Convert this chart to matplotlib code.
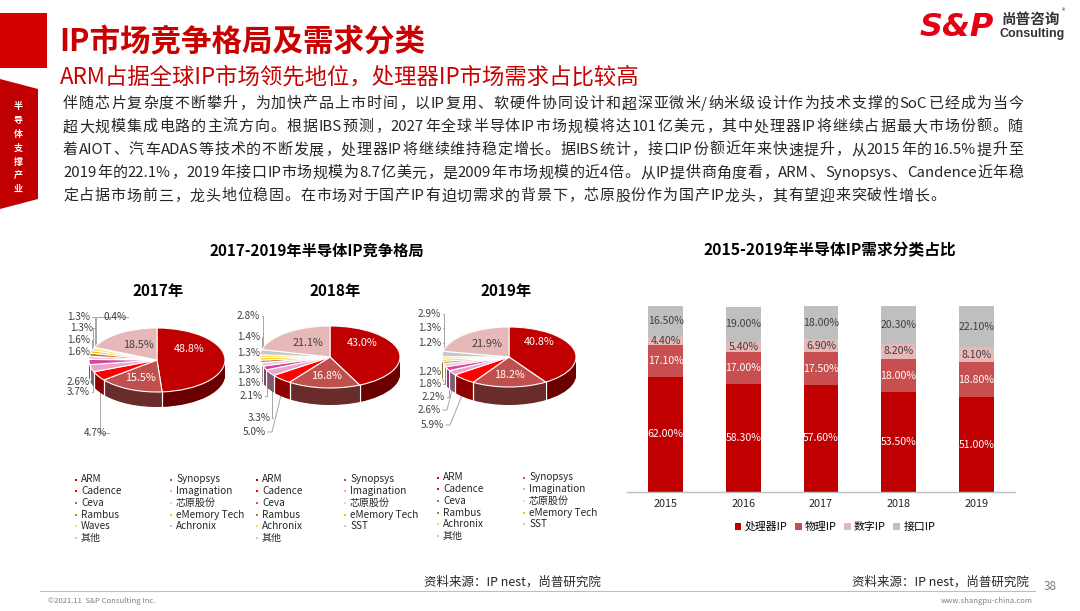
import re
import numpy as np
import matplotlib.pyplot as plt
from matplotlib.colors import to_rgb
from matplotlib.font_manager import FontProperties

FAMILY = ['Noto Sans CJK SC', 'DejaVu Sans']
plt.rcParams['font.family'] = FAMILY

W, H = 1080, 611

# ---- data ----
vendors17 = ['ARM', 'Synopsys', 'Cadence', 'Imagination', 'Ceva', '芯原股份',
             'Rambus', 'eMemory Tech', 'Waves', 'Achronix', '其他']
share17 = [48.8, 15.5, 4.7, 3.7, 2.6, 1.6, 1.6, 1.3, 1.3, 0.4, 18.5]
vendors18 = ['ARM', 'Synopsys', 'Cadence', 'Imagination', 'Ceva', '芯原股份',
             'Rambus', 'eMemory Tech', 'Achronix', 'SST', '其他']
share18 = [43.0, 16.8, 5.0, 3.3, 2.1, 1.8, 1.3, 1.3, 1.4, 2.8, 21.1]
vendors19 = ['ARM', 'Synopsys', 'Cadence', 'Imagination', 'Ceva', '芯原股份',
             'Rambus', 'eMemory Tech', 'Achronix', 'SST', '其他']
share19 = [40.8, 18.2, 5.9, 2.6, 2.2, 1.8, 1.2, 1.2, 1.3, 2.9, 21.9]

years = ['2015', '2016', '2017', '2018', '2019']
ip_types = ['处理器IP', '物理IP', '数字IP', '接口IP']
processor_ip = [62.0, 58.3, 57.6, 53.5, 51.0]
physical_ip = [17.1, 17.0, 17.5, 18.0, 18.8]
digital_ip = [4.4, 5.4, 6.9, 8.2, 8.1]
interface_ip = [16.5, 19.0, 18.0, 20.3, 22.1]

body = [
    '伴随芯片复杂度不断攀升，为加快产品上市时间，以IP复用、软硬件协同设计和超深亚微米/纳米级设计作为技术支撑的SoC已经成为当今',
    '超大规模集成电路的主流方向。根据IBS预测，2027年全球半导体IP市场规模将达101亿美元，其中处理器IP将继续占据最大市场份额。随',
    '着AIOT、汽车ADAS等技术的不断发展，处理器IP将继续维持稳定增长。据IBS统计，接口IP份额近年来快速提升，从2015年的16.5%提升至',
    '2019年的22.1%，2019年接口IP市场规模为8.7亿美元，是2009年市场规模的近4倍。从IP提供商角度看，ARM、Synopsys、Candence近年稳',
    '定占据市场前三，龙头地位稳固。在市场对于国产IP有迫切需求的背景下，芯原股份作为国产IP龙头，其有望迎来突破性增长。',
]

pie_colors = ['#C00000', '#C0504D', '#FF0000', '#EBA3C9', '#D2479B', '#F5C6D8',
              '#B07A4A', '#FFC000', '#FFE34D', '#C8C8C8', '#E6B9B8']
bar_colors = ['#C00000', '#C84F4F', '#E6B8B7', '#BFBFBF']

RED = '#C80000'
TXT = '#262626'


def box(x0, y0, x1, y1):
    return [x0 / W, 1 - y1 / H, (x1 - x0) / W, (y1 - y0) / H]


fig = plt.figure(figsize=(W / 100, H / 100), dpi=100)
bg = fig.add_axes([0, 0, 1, 1])
bg.set_xlim(0, W)
bg.set_ylim(H, 0)
bg.axis('off')
renderer = fig.canvas.get_renderer()

# ---- header ----
bg.add_patch(plt.Rectangle((0, 13), 47, 55, color='#D40000', lw=0))
bg.add_patch(plt.Polygon([(0, 79), (38, 89), (38, 199), (0, 209)], color='#C00000', lw=0))
for i, ch in enumerate('半导体支撑产业'):
    bg.text(18, 107 + i * 13.8, ch, color='white', fontsize=6.5, ha='center', va='center',
            fontweight='bold')

bg.text(59, 42, 'IP市场竞争格局及需求分类', color=RED, fontsize=22, fontweight='bold',
        va='center', ha='left')
bg.text(60, 77, 'ARM占据全球IP市场领先地位，处理器IP市场需求占比较高', color=RED, fontsize=16.1,
        va='center', ha='left')

# body text, justified token by token
fs_body = 10.8
fp = FontProperties(family=FAMILY, size=fs_body)


def txt_w(s):
    return renderer.get_text_width_height_descent(s, fp, ismath=False)[0]


base = txt_w('中中')
layout = []
for line in body:
    toks = re.findall(r'[\x00-\x7f]+|.', line)
    advs = [txt_w('中' + t + '中') - base for t in toks]
    layout.append((toks, advs))
x_left, x_right = 63, 1023
gaps = [(x_right - x_left - sum(a)) / (len(t) - 1) for t, a in layout[:4]]
for i, (toks, advs) in enumerate(layout):
    gap = gaps[i] if i < 4 else np.mean(gaps)
    x = x_left
    for t, a in zip(toks, advs):
        bg.text(x, 104 + i * 23.1, t, color=TXT, fontproperties=fp, va='center', ha='left')
        x += a + gap

# logo
bg.text(920, 27, 'S&P', color='#E60012', fontsize=23, fontweight='heavy', style='italic',
        family='DejaVu Sans', va='center', ha='left')
bg.text(1001, 19, '尚普咨询', color='#333333', fontsize=10.5, fontweight='bold', va='center', ha='left')
bg.text(1062, 11, '®', color='#333333', fontsize=5, va='center', ha='left')
bg.text(1000, 34, 'Consulting', color='#333333', fontsize=9, fontweight='bold',
        family='Liberation Sans', va='center', ha='left')

# section titles
bg.text(317, 251, '2017-2019年半导体IP竞争格局', fontsize=11, fontweight='bold', color='black',
        ha='center', va='center')
bg.text(830, 250, '2015-2019年半导体IP需求分类占比', fontsize=11.3, fontweight='bold', color='black',
        ha='center', va='center')


def darker(c, f=0.5):
    r, g, b = to_rgb(c)
    return (r * f, g * f, b * f)


def draw_pie(cx, cy, rx, ry, dep, shares, names, title, title_x, ext_pos, leg_x, leg_y):
    ax = fig.add_axes(box(cx - rx, cy - ry, cx + rx, cy + ry + dep))
    dd = dep / ry
    side = [darker(c, 0.55) for c in pie_colors]
    for k in np.linspace(dd, 0.0, 30):
        ax.pie(shares, colors=side, startangle=90, counterclock=False, center=(0, -k),
               wedgeprops=dict(linewidth=0))
    ax.pie(shares, colors=pie_colors, startangle=90, counterclock=False,
           wedgeprops=dict(edgecolor='white', linewidth=0.8))
    s = np.array(shares)
    cum = np.cumsum(s)
    bounds = np.deg2rad(90 - 3.6 * np.concatenate([[0], cum]))
    for b in bounds:
        if np.sin(b) < -0.1:
            ax.plot([np.cos(b), np.cos(b)], [np.sin(b), np.sin(b) - dd], color='white', lw=0.9)
    ax.set_aspect('auto')
    ax.set_xlim(-1, 1)
    ax.set_ylim(-1 - dd, 1)
    ax.axis('off')

    mid = np.deg2rad(90 - 3.6 * (cum - s / 2))
    # inner labels on the three big slices
    nudges = {0: (-0.12, 0.32), 1: (0.0, 0.0), 10: (0.05, -0.02)}
    for i, (nx, ny) in nudges.items():
        col = 'white' if i < 2 else '#404040'
        ax.text(0.6 * np.cos(mid[i]) + nx, 0.6 * np.sin(mid[i]) + ny, f'{s[i]:.1f}%',
                color=col, fontsize=7.8, ha='center', va='center')

    # outer labels with leader lines
    for i, (lx, ly) in zip(range(2, 10), ext_pos):
        bg.text(lx, ly, f'{s[i]:.1f}%', color='#404040', fontsize=7.2, ha='left', va='center')
        px = cx + rx * 0.97 * np.cos(mid[i])
        py = cy - ry * 0.97 * np.sin(mid[i])
        if np.sin(mid[i]) < 0:
            py += dep * 0.6
        ex = lx + 25
        vx = min(px, ex + 4)
        bg.plot([ex, vx, px], [ly, ly, py], color='#A6A6A6', lw=0.7)

    bg.text(title_x, 291, title, fontsize=11, fontweight='bold', color='black',
            ha='center', va='center')

    # legend, row-major with two columns
    for i, name in enumerate(names):
        r, c = divmod(i, 2)
        x = leg_x[c]
        y = leg_y + r * 11.7
        bg.scatter([x], [y], marker='s', s=4, color=pie_colors[i], lw=0)
        bg.text(x + 5, y, name, fontsize=7.2, color='#262626', ha='left', va='center')


draw_pie(157, 360, 68, 32, 15, share17, vendors17, '2017年', 158,
         [(84, 433), (67, 392), (67, 382), (67, 352), (67, 340), (70, 328), (67, 317), (103, 317)],
         (76, 171), 479.5)
draw_pie(330, 357, 70, 31, 17, share18, vendors18, '2018年', 335,
         [(243, 432), (248, 418), (240, 396), (237, 383), (237, 370), (237, 353), (237, 337), (237, 316)],
         (257, 345), 479.5)
draw_pie(509, 357, 67, 30, 18, share19, vendors19, '2019年', 506,
         [(421, 425), (418, 410), (422, 397), (418, 384), (418, 372), (418, 343), (418, 328), (418, 314)],
         (438, 524), 477.5)

# ---- stacked bar chart ----
bx = fig.add_axes(box(627, 306, 1015, 492))
xpos = np.arange(len(years))
series = [processor_ip, physical_ip, digital_ip, interface_ip]
bottom = np.zeros(len(years))
for k, vals in enumerate(series):
    bars = bx.bar(xpos, vals, width=0.45, bottom=bottom, color=bar_colors[k],
                  label=ip_types[k], lw=0)
    col = 'white' if k < 2 else '#404040'
    bx.bar_label(bars, labels=[f'{v:.2f}%' for v in vals], label_type='center',
                 color=col, fontsize=7.6)
    bottom += np.array(vals)
bx.set_xlim(-0.5, 4.5)
bx.set_ylim(0, 100)
bx.set_xticks(xpos, years)
bx.tick_params(axis='x', length=0, labelsize=7.8, colors='#262626', pad=5)
bx.set_yticks([])
for sp in ['top', 'left', 'right']:
    bx.spines[sp].set_visible(False)
bx.spines['bottom'].set_color('#BFBFBF')
bx.spines['bottom'].set_linewidth(1)
bx.legend(loc='center', bbox_to_anchor=(835 / W, 1 - 527 / H), bbox_transform=fig.transFigure,
          ncol=4, frameon=False, fontsize=7.8, handlelength=0.6, handleheight=0.6,
          handletextpad=0.3, columnspacing=0.7)

# ---- footer ----
bg.text(512, 582, '资料来源：IP nest，尚普研究院', fontsize=9, color='#262626', ha='center', va='center')
bg.text(940, 582, '资料来源：IP nest，尚普研究院', fontsize=9, color='#262626', ha='center', va='center')
bg.text(1050, 587, '38', fontsize=8.5, color='#7F7F7F', ha='center', va='center')
bg.plot([40, 1035], [591, 591], color='#BFBFBF', lw=0.8)
bg.text(48, 601, '©2021.11  S&P Consulting Inc.', fontsize=5.5, color='#7F7F7F', ha='left', va='center')
bg.text(1033, 601, 'www.shangpu-china.com', fontsize=5.5, color='#7F7F7F', ha='right', va='center')

fig.savefig('out.png', dpi=100)
